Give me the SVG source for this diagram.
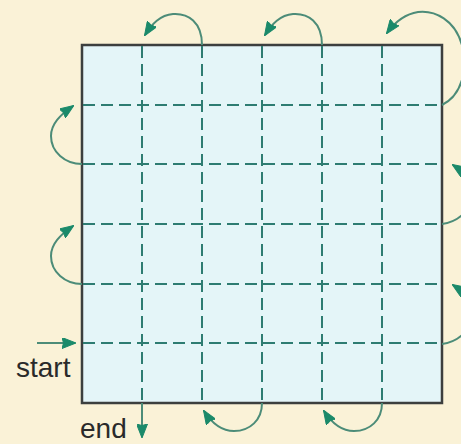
<svg xmlns="http://www.w3.org/2000/svg" width="461" height="444" viewBox="0 0 461 444">
<style>
.bg{fill:#FAF2D7}
.board{fill:#E4F5F8;stroke:#3C3F3E;stroke-width:2.5}
.grid{stroke:#2E7C72;stroke-width:2;stroke-dasharray:12 6;fill:none}
.arc{fill:none;stroke:#4C8C78;stroke-width:2}
.lbl{font-family:"Liberation Sans",Arial,sans-serif;font-size:28px;fill:#2A2A2A}
</style>
<defs>
<marker id="ah" viewBox="0 0 14 11" refX="13" refY="5.5" markerUnits="userSpaceOnUse" markerWidth="14" markerHeight="11" orient="auto">
<path d="M0,0 L14,5.5 L0,11 L1.5,5.5 z" fill="#1B8A6A" stroke="#1B8A6A" stroke-width="1" stroke-linejoin="round"/>
</marker>
</defs>
<rect class="bg" x="0" y="0" width="461" height="444"/>
<g id="board">
<rect class="board" x="82" y="45" width="360" height="358"/>
<g class="grid">
<path d="M142,46V402 M202,46V402 M262,46V402 M322,46V402 M382,46V402"/>
<path d="M83,105H441 M83,164H441 M83,224H441 M83,284H441 M83,343H441"/>
</g>
</g>
<g id="connectors">
<path class="arc" marker-end="url(#ah)" d="M202,45 C202,22 188,13 173,14 C160,15 152,24 145,35"/>
<path class="arc" marker-end="url(#ah)" d="M322,45 C322,22 308,13 293,14 C280,15 272,24 265,35"/>
<path class="arc" marker-end="url(#ah)" d="M442,105 C462,95 468,70 462,45 C455,20 435,10 418,12 C405,14 395,22 387,33"/>
<path class="arc" marker-end="url(#ah)" d="M82,164 C65,164 51,152 51,136 C51,124 60,115 73,106"/>
<path class="arc" marker-end="url(#ah)" d="M82,284 C65,284 51,272 51,256 C51,244 60,235 73,226"/>
<path class="arc" marker-end="url(#ah)" d="M442,224 C458,222 472,210 472,194 C472,182 465,173 453,165"/>
<path class="arc" marker-end="url(#ah)" d="M442,344 C458,342 472,330 472,314 C472,302 465,293 453,285"/>
<path class="arc" marker-end="url(#ah)" d="M262,403 C262,420 250,431 234,431 C220,431 211,422 204,411"/>
<path class="arc" marker-end="url(#ah)" d="M382,403 C382,420 370,431 354,431 C340,431 331,422 324,411"/>
<path class="arc" stroke="#2E7C72" marker-end="url(#ah)" d="M37,343 H75"/>
<path class="arc" stroke="#2E7C72" marker-end="url(#ah)" d="M142,403 V437"/>
</g>
<g id="labels">
<text class="lbl" x="16" y="377">start</text>
<text class="lbl" x="80" y="438">end</text>
</g>
</svg>
